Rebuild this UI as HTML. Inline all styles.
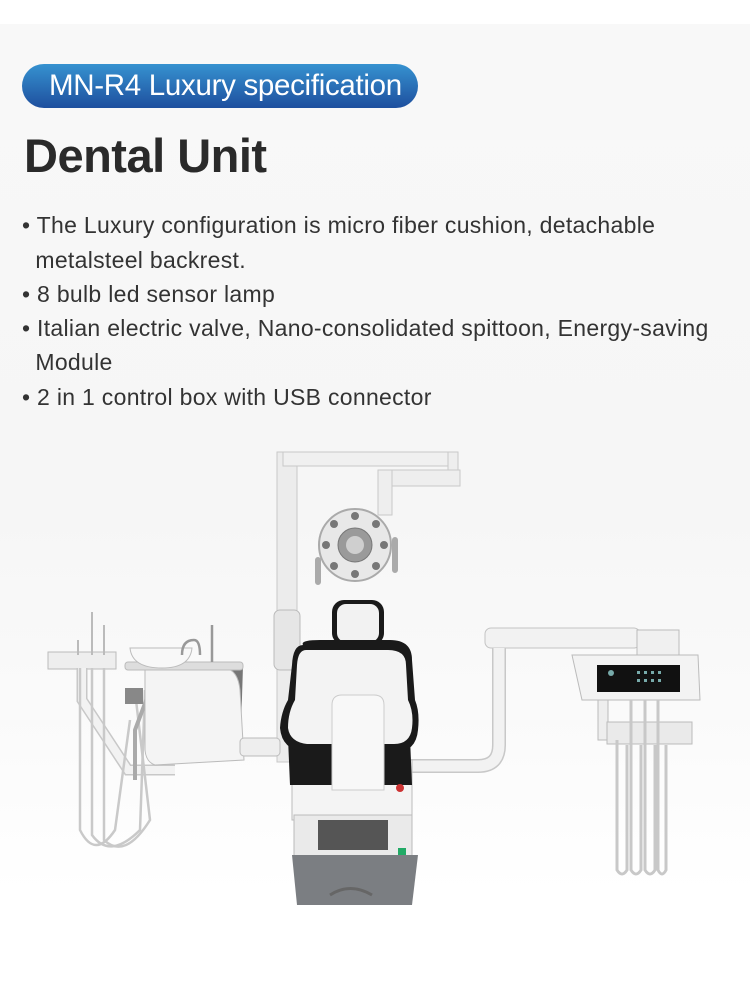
<!DOCTYPE html>
<html><head><meta charset="utf-8"><style>
html,body{margin:0;padding:0}
body{width:750px;height:990px;position:relative;overflow:hidden;font-family:"Liberation Sans",sans-serif;background:#fff}
.bg{position:absolute;left:0;top:24px;width:750px;height:966px;background:linear-gradient(#f8f8f8 0%,#f6f6f6 50%,#fbfbfb 75%,#fff 90%)}
.pill{position:absolute;left:22px;top:64px;width:396px;height:44px;border-radius:22px;background:linear-gradient(#3692d0,#1e4f9e);color:#fff;font-size:29.5px;line-height:44px;text-indent:27px;letter-spacing:-0.3px;white-space:nowrap}
h1{position:absolute;left:24px;top:128px;margin:0;font-size:47px;font-weight:bold;color:#2a2a2a;letter-spacing:-0.5px;font-family:"Liberation Sans","Noto Sans CJK SC",sans-serif}
.b{position:absolute;left:22px;font-size:23px;letter-spacing:0.3px;color:#333;line-height:24px;white-space:nowrap}
svg{position:absolute;left:0;top:0}
</style></head><body>
<div class="bg"></div>
<div class="pill">MN-R4 Luxury specification</div>
<h1>Dental Unit</h1>
<div class="b" style="top:213px">• The Luxury configuration is micro fiber cushion, detachable</div>
<div class="b" style="top:248px">&nbsp;&nbsp;metalsteel backrest.</div>
<div class="b" style="top:282px">• 8 bulb led sensor lamp</div>
<div class="b" style="top:316px">• Italian electric valve, Nano-consolidated spittoon, Energy-saving</div>
<div class="b" style="top:350px">&nbsp;&nbsp;Module</div>
<div class="b" style="top:385px">• 2 in 1 control box with USB connector</div>
<svg width="750" height="990">
<rect x="277" y="452" width="20" height="310" fill="#ececec" stroke="#c8c8c8"/>
<rect x="274" y="610" width="26" height="60" rx="6" fill="#e6e6e6" stroke="#bbb"/>
<rect x="283" y="452" width="175" height="14" fill="#f0f0f0" stroke="#c8c8c8"/>
<rect x="448" y="452" width="10" height="22" fill="#eee" stroke="#c8c8c8"/>
<rect x="378" y="470" width="82" height="16" fill="#eee" stroke="#c8c8c8"/>
<rect x="378" y="470" width="14" height="45" fill="#eee" stroke="#c8c8c8"/>
<path d="M318 560 l0 22 M395 540 l0 30" stroke="#aaa" stroke-width="6" fill="none" stroke-linecap="round"/>
<circle cx="355" cy="545" r="36" fill="#e8e8e8" stroke="#aaa" stroke-width="2"/>
<circle cx="355" cy="545" r="17" fill="#9a9a9a" stroke="#777"/>
<circle cx="355" cy="545" r="9" fill="#cfcfcf"/>
<g fill="#777">
<circle cx="355" cy="516" r="4"/><circle cx="376" cy="524" r="4"/><circle cx="384" cy="545" r="4"/><circle cx="376" cy="566" r="4"/>
<circle cx="355" cy="574" r="4"/><circle cx="334" cy="566" r="4"/><circle cx="326" cy="545" r="4"/><circle cx="334" cy="524" r="4"/></g>
<rect x="485" y="628" width="155" height="20" rx="6" fill="#f2f2f2" stroke="#c4c4c4"/>
<path d="M499 648 L499 745 Q499 766 478 766 L400 766" stroke="#c8c8c8" stroke-width="14" fill="none"/>
<path d="M499 648 L499 745 Q499 766 478 766 L400 766" stroke="#f2f2f2" stroke-width="11" fill="none"/>
<rect x="637" y="630" width="42" height="28" fill="#f0f0f0" stroke="#bbb"/>
<path d="M572 655 L698 655 L700 700 L582 700 Z" fill="#f3f3f3" stroke="#bbb"/>
<rect x="597" y="665" width="83" height="27" fill="#111"/>
<g fill="#7aa"><circle cx="611" cy="673" r="3"/><rect x="637" y="671" width="3" height="3"/><rect x="644" y="671" width="3" height="3"/><rect x="651" y="671" width="3" height="3"/><rect x="658" y="671" width="3" height="3"/><rect x="637" y="679" width="3" height="3"/><rect x="644" y="679" width="3" height="3"/><rect x="651" y="679" width="3" height="3"/><rect x="658" y="679" width="3" height="3"/></g>
<rect x="598" y="700" width="10" height="40" fill="#eee" stroke="#bbb"/>
<rect x="607" y="722" width="85" height="22" fill="#eaeaea" stroke="#bbb"/>
<g stroke="#c8c8c8" stroke-width="3" fill="none">
<path d="M617 740 L617 870 Q622 878 627 870 L627 745"/>
<path d="M631 700 L631 870 Q636 878 641 870 L641 745"/>
<path d="M645 700 L645 870 Q650 878 655 870 L655 745"/>
<path d="M658 700 L658 870 Q662 878 666 870 L666 745"/>
</g>
<rect x="48" y="652" width="68" height="17" fill="#eee" stroke="#bbb"/>
<g stroke="#bbb" stroke-width="2" fill="none"><path d="M92 612 L92 655"/><path d="M104 625 L104 655"/><path d="M78 640 L78 655"/></g>
<path d="M82 668 L82 700 L128 770 L175 770" stroke="#c8c8c8" stroke-width="11" fill="none"/>
<path d="M82 668 L82 700 L128 770 L175 770" stroke="#f2f2f2" stroke-width="8" fill="none"/>
<g stroke="#c9c9c9" stroke-width="2.5" fill="none">
<path d="M80 668 L80 830 Q95 860 115 830 L130 720"/>
<path d="M92 668 L92 835 Q110 860 140 830 L145 690"/>
<path d="M104 668 L104 840 Q125 860 150 820 L136 700"/>
</g>
<path d="M150 690 L135 730 L135 780" stroke="#aaa" stroke-width="4" fill="none"/>
<rect x="125" y="688" width="18" height="16" fill="#888"/>
<path d="M225 666 L243 666 L240 760 L225 760 Z" fill="#777"/>
<path d="M145 668 L225 668 Q238 670 240 690 L244 760 L155 765 Q146 762 145 750 Z" fill="#f4f4f4" stroke="#bbb"/>
<rect x="125" y="662" width="118" height="8" rx="3" fill="#ddd" stroke="#bbb"/>
<path d="M130 648 L192 648 Q190 668 162 668 Q132 668 130 648 Z" fill="#f8f8f8" stroke="#bbb"/>
<path d="M182 655 Q182 640 194 640 Q200 640 200 655 M212 625 L212 662" stroke="#999" stroke-width="2.5" fill="none"/>
<rect x="240" y="738" width="40" height="18" rx="4" fill="#eee" stroke="#bbb"/>
<rect x="292" y="760" width="120" height="60" fill="#f4f4f4" stroke="#bbb"/>
<rect x="294" y="815" width="118" height="45" fill="#eaeaea" stroke="#bbb"/>
<rect x="318" y="820" width="70" height="30" fill="#555"/>
<rect x="398" y="848" width="8" height="8" fill="#2a6"/>
<path d="M292 855 L418 855 L412 905 L297 905 Z" fill="#7b7e82"/>
<path d="M330 895 Q350 882 372 895" stroke="#666" stroke-width="3" fill="none"/>
<path d="M288 738 L410 738 L412 785 L290 785 Z" fill="#1a1a1a"/>
<rect x="332" y="600" width="52" height="45" rx="12" fill="#1a1a1a"/>
<rect x="337" y="604" width="42" height="38" rx="9" fill="#f2f2f2"/>
<path d="M303 645 Q300 640 320 640 L390 640 Q412 640 412 660 L415 700 Q420 712 418 730 Q416 752 395 752 L305 752 Q282 750 280 728 Q281 712 288 700 L292 665 Q293 645 303 645 Z" fill="#1a1a1a"/>
<path d="M306 650 L388 650 Q406 650 406 665 L408 700 Q414 712 412 728 Q410 744 394 744 L307 744 Q290 742 288 728 Q288 712 295 700 L297 665 Q298 650 306 650 Z" fill="#f3f3f3"/>
<path d="M332 705 Q332 695 342 695 L374 695 Q384 695 384 705 L384 790 L332 790 Z" fill="#f8f8f8" stroke="#ccc"/>
<circle cx="400" cy="788" r="4" fill="#c33"/>
</svg>
</body></html>
